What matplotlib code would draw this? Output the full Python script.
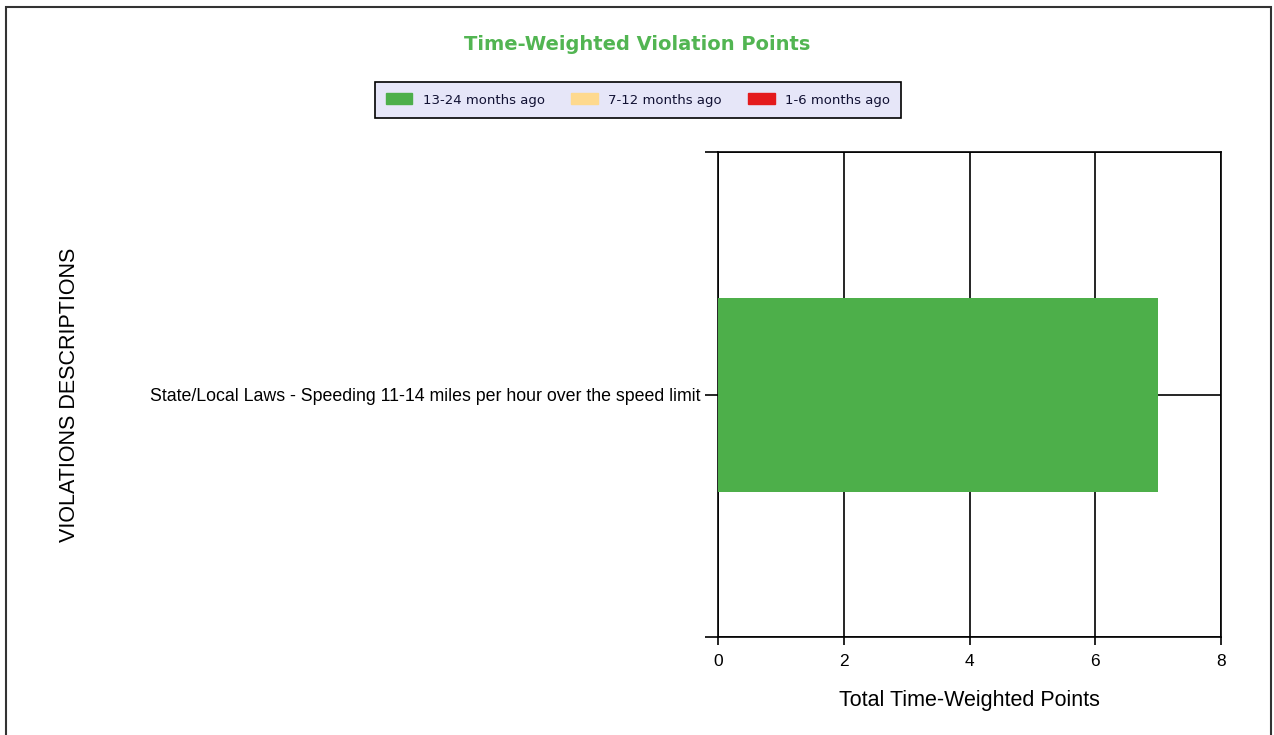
import matplotlib
matplotlib.use('Agg')
import matplotlib.pyplot as plt
from matplotlib.patches import Patch, Rectangle

# data
categories = ['State/Local Laws - Speeding 11-14 miles per hour over the speed limit']
months_13_24 = [7]
months_7_12 = [0]
months_1_6 = [0]
series_names = ['13-24 months ago', '7-12 months ago', '1-6 months ago']
series_colors = ['#4daf4a', '#fed98e', '#e41a1c']
x_ticks = [0, 2, 4, 6, 8]


def plot():
    fig = plt.figure(figsize=(12.74, 7.35), dpi=100)
    ax = fig.add_axes([0.5636, 0.1333, 0.3948, 0.6599])

    # outer frame around the whole chart
    fig.patches.append(Rectangle((6 / 1274, -0.05), 1265 / 1274, 1.05 - 7 / 735,
                                 transform=fig.transFigure, fill=False,
                                 edgecolor='#333333', linewidth=1.5))

    ypos = list(range(len(categories)))
    left = [0] * len(categories)
    for vals, name, col in zip([months_13_24, months_7_12, months_1_6], series_names, series_colors):
        ax.barh(ypos, vals, left=left, height=0.8, color=col, zorder=3)
        left = [l + v for l, v in zip(left, vals)]

    ax.set_xlim(0, 8)
    ax.set_ylim(-1, 1)
    ax.set_xticks(x_ticks)
    ax.set_xticklabels([str(t) for t in x_ticks], fontsize=12.5, family='Liberation Sans')
    ax.set_yticks([-1, 0, 1])
    ax.set_yticklabels(['', categories[0], ''], fontsize=12.75, family='Liberation Sans')
    ax.tick_params(axis='x', length=6, width=1.2, pad=6)
    ax.tick_params(axis='y', length=9.5, width=1.2, pad=3)

    ax.grid(True, color='black', linewidth=1.2, zorder=0)
    ax.set_axisbelow(True)
    for s in ax.spines.values():
        s.set_linewidth(1.2)
        s.set_color('black')

    ax.set_xlabel('Total Time-Weighted Points', fontsize=15.5, family='Liberation Sans', labelpad=15)
    fig.text(70 / 1274, 1 - 395 / 735, 'VIOLATIONS DESCRIPTIONS', rotation=90, fontsize=15.5,
             family='Liberation Sans', ha='center', va='center')

    fig.text(0.5, 1 - 45 / 735, 'Time-Weighted Violation Points', fontsize=14, fontweight='bold',
             color='#52b552', ha='center', va='center')

    handles = [Patch(facecolor=c, edgecolor=c) for c in series_colors]
    leg = fig.legend(handles, series_names, loc='center', bbox_to_anchor=(638 / 1274, 1 - 100 / 735),
                     ncol=3, fontsize=9.5, frameon=True, fancybox=False, handlelength=2.0,
                     handleheight=0.9, columnspacing=2.0, borderpad=0.85, borderaxespad=0)
    leg.get_frame().set_facecolor('#e6e6f8')
    leg.get_frame().set_edgecolor('black')
    leg.get_frame().set_linewidth(1.2)
    leg.get_frame().set_alpha(1)
    for t in leg.get_texts():
        t.set_color('#111133')

    fig.savefig('out.png', dpi=100)


plot()
